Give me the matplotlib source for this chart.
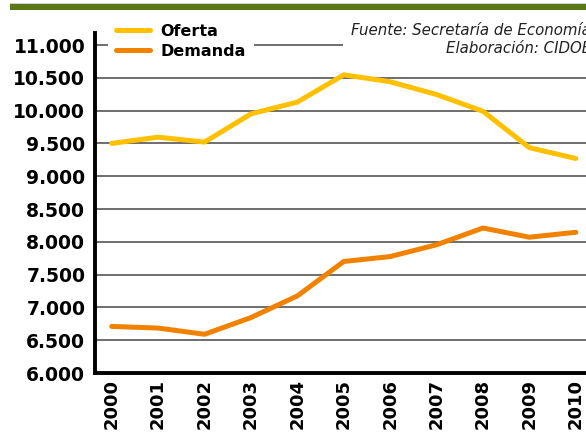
import matplotlib.pyplot as plt
from matplotlib.patches import Rectangle

years = ['2000', '2001', '2002', '2003', '2004', '2005',
         '2006', '2007', '2008', '2009', '2010']
oferta = [9500, 9595, 9520, 9950, 10130, 10545, 10440, 10245, 9990, 9435, 9270]
demanda = [6710, 6685, 6590, 6845, 7175, 7700, 7775, 7955, 8210, 8070, 8145]
yticks = [6000, 6500, 7000, 7500, 8000, 8500, 9000, 9500, 10000, 10500, 11000]
fuente = 'Fuente: Secretaría de Economía\nElaboración: CIDOE'

W, H = 586, 436
fig = plt.figure(figsize=(W / 100, H / 100), dpi=100)

# axes run a little past the right edge, the way the page crops it
ax = fig.add_axes([95 / W, 63 / H, 504 / W, 340 / H])
x = list(range(len(years)))
ax.plot(x, oferta, color='#FFC000', lw=3.6, label='Oferta', solid_capstyle='round', zorder=3)
ax.plot(x, demanda, color='#F08200', lw=3.6, label='Demanda', solid_capstyle='round', zorder=3)

ax.set_xlim(-0.36, 10.5)
ax.set_ylim(6000, 11183)
ax.set_xticks(x)
ax.set_xticklabels(years, rotation=90, fontsize=13, fontweight='bold')
ax.set_yticks(yticks)
ax.set_yticklabels([f'{v:,}'.replace(',', '.') for v in yticks], fontsize=13.5, fontweight='bold')
ax.tick_params(axis='y', length=0, pad=7)
ax.tick_params(axis='x', length=0, pad=4)
ax.yaxis.grid(True, color='#555555', lw=1.2)
ax.set_axisbelow(True)

for s in ['top', 'right']:
    ax.spines[s].set_visible(False)
for s in ['left', 'bottom']:
    ax.spines[s].set_linewidth(2.8)
    ax.spines[s].set_color('black')

leg = ax.legend(loc='upper left', bbox_to_anchor=(108 / W, 1 - 16 / H),
                bbox_transform=fig.transFigure, frameon=True, fancybox=False,
                prop={'size': 11.5, 'weight': 'bold'}, handlelength=2.1,
                handletextpad=0.7, labelspacing=0.3, borderpad=0.5, borderaxespad=0)
leg.get_frame().set_facecolor('white')
leg.get_frame().set_edgecolor('none')
leg.get_frame().set_alpha(1)

fig.text(591 / W, 1 - 23 / H, fuente, ha='right', va='top', fontsize=10.8,
         style='italic', color='#222222', linespacing=1.25, multialignment='right',
         bbox=dict(facecolor='white', edgecolor='none', pad=6))

# green band across the top
fig.patches.append(Rectangle((10 / W, 1 - 10 / H), 1, 6 / H, transform=fig.transFigure,
                             facecolor='#5B7819', edgecolor='none'))
fig.patches.append(Rectangle((10 / W, 1 - 4 / H), 1, 1.2 / H, transform=fig.transFigure,
                             facecolor='#cfcfcf', edgecolor='none'))

fig.savefig('out.png', dpi=100)
